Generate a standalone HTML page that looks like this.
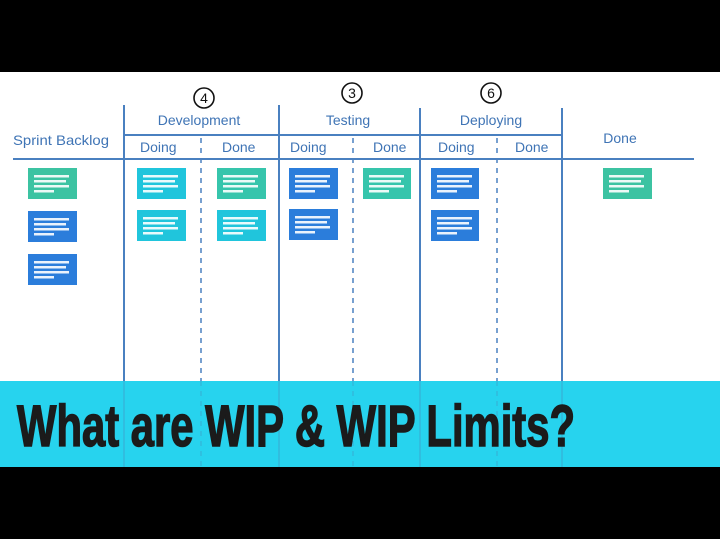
<!DOCTYPE html>
<html><head><meta charset="utf-8"><style>
html,body{margin:0;padding:0;background:#000;}
svg{display:block}
</style></head><body>
<svg width="720" height="539" viewBox="0 0 720 539" xmlns="http://www.w3.org/2000/svg">
<defs>
<g id="lines">
<rect x="6" y="7" width="35" height="2.5" fill="#fff" opacity="0.9"/>
<rect x="6" y="12" width="32" height="2.5" fill="#fff" opacity="0.9"/>
<rect x="6" y="17" width="35" height="2.5" fill="#fff" opacity="0.9"/>
<rect x="6" y="22" width="20" height="2.5" fill="#fff" opacity="0.9"/>
</g>
</defs>
<rect x="0" y="0" width="720" height="72" fill="#000"/>
<rect x="0" y="72" width="720" height="309" fill="#fff"/>
<rect x="0" y="381" width="720" height="86" fill="#27d3ee"/>
<rect x="0" y="467" width="720" height="72" fill="#000"/>

<g stroke="#4a80c0" stroke-width="2" fill="none">
<line x1="124" y1="105" x2="124" y2="381"/>
<line x1="279" y1="105" x2="279" y2="381"/>
<line x1="420" y1="108" x2="420" y2="381"/>
<line x1="562" y1="108" x2="562" y2="381"/>
<line x1="13" y1="159" x2="694" y2="159"/>
<line x1="124" y1="135" x2="562" y2="135"/>
</g>
<g stroke="#3f9ec8" stroke-width="1" fill="none" opacity="0.8">
<line x1="124" y1="381" x2="124" y2="467"/>
<line x1="279" y1="381" x2="279" y2="467"/>
<line x1="420" y1="381" x2="420" y2="467"/>
<line x1="562" y1="381" x2="562" y2="467"/>
</g>
<g stroke="#4a80c0" stroke-width="1.5" stroke-dasharray="5,5" fill="none">
<line x1="201" y1="138" x2="201" y2="381"/>
<line x1="353" y1="138" x2="353" y2="381"/>
<line x1="497" y1="138" x2="497" y2="381"/>
</g>
<g stroke="#3f9ec8" stroke-width="1" stroke-dasharray="5,5" fill="none" opacity="0.7">
<line x1="201" y1="381" x2="201" y2="467"/>
<line x1="353" y1="381" x2="353" y2="467"/>
<line x1="497" y1="381" x2="497" y2="467"/>
</g>

<g font-family="Liberation Sans, sans-serif" fill="#3f74b5" font-size="14">
<text x="13" y="145" textLength="96" lengthAdjust="spacingAndGlyphs">Sprint Backlog</text>
<text x="199" y="125" text-anchor="middle">Development</text>
<text x="348" y="125" text-anchor="middle">Testing</text>
<text x="491" y="125" text-anchor="middle">Deploying</text>
<text x="620" y="143" text-anchor="middle">Done</text>
<text x="140" y="152">Doing</text>
<text x="222" y="152">Done</text>
<text x="290" y="152">Doing</text>
<text x="373" y="152">Done</text>
<text x="438" y="152">Doing</text>
<text x="515" y="152">Done</text>
</g>
<g font-family="Liberation Sans, sans-serif" font-size="14" fill="#111" text-anchor="middle">
<circle cx="204" cy="98" r="10" fill="none" stroke="#111" stroke-width="1.6"/>
<text x="204" y="103">4</text>
<circle cx="352" cy="93" r="10" fill="none" stroke="#111" stroke-width="1.6"/>
<text x="352" y="98">3</text>
<circle cx="491" cy="93" r="10" fill="none" stroke="#111" stroke-width="1.6"/>
<text x="491" y="98">6</text>
</g>

<g>
<rect x="28" y="168" width="49" height="31" fill="#3cc3a2"/><use href="#lines" x="28" y="168"/>
<rect x="28" y="211" width="49" height="31" fill="#2b7ddb"/><use href="#lines" x="28" y="211"/>
<rect x="28" y="254" width="49" height="31" fill="#2b7ddb"/><use href="#lines" x="28" y="254"/>
<rect x="137" y="168" width="49" height="31" fill="#20c5dc"/><use href="#lines" x="137" y="168"/>
<rect x="137" y="210" width="49" height="31" fill="#20c5dc"/><use href="#lines" x="137" y="210"/>
<rect x="217" y="168" width="49" height="31" fill="#36c5ac"/><use href="#lines" x="217" y="168"/>
<rect x="217" y="210" width="49" height="31" fill="#20c5dc"/><use href="#lines" x="217" y="210"/>
<rect x="289" y="168" width="49" height="31" fill="#2b7ddb"/><use href="#lines" x="289" y="168"/>
<rect x="289" y="209" width="49" height="31" fill="#2b7ddb"/><use href="#lines" x="289" y="209"/>
<rect x="363" y="168" width="48" height="31" fill="#36c5ac"/><use href="#lines" x="363" y="168"/>
<rect x="431" y="168" width="48" height="31" fill="#2b7ddb"/><use href="#lines" x="431" y="168"/>
<rect x="431" y="210" width="48" height="31" fill="#2b7ddb"/><use href="#lines" x="431" y="210"/>
<rect x="603" y="168" width="49" height="31" fill="#3cc3a2"/><use href="#lines" x="603" y="168"/>
</g>

<text x="17" y="446" font-family="Liberation Sans Narrow, Liberation Sans, sans-serif" font-weight="bold" font-size="58" fill="#1b1b1b" stroke="#1b1b1b" stroke-width="1.5" textLength="558" lengthAdjust="spacingAndGlyphs">What are WIP &amp; WIP Limits?</text>
</svg>
</body></html>
